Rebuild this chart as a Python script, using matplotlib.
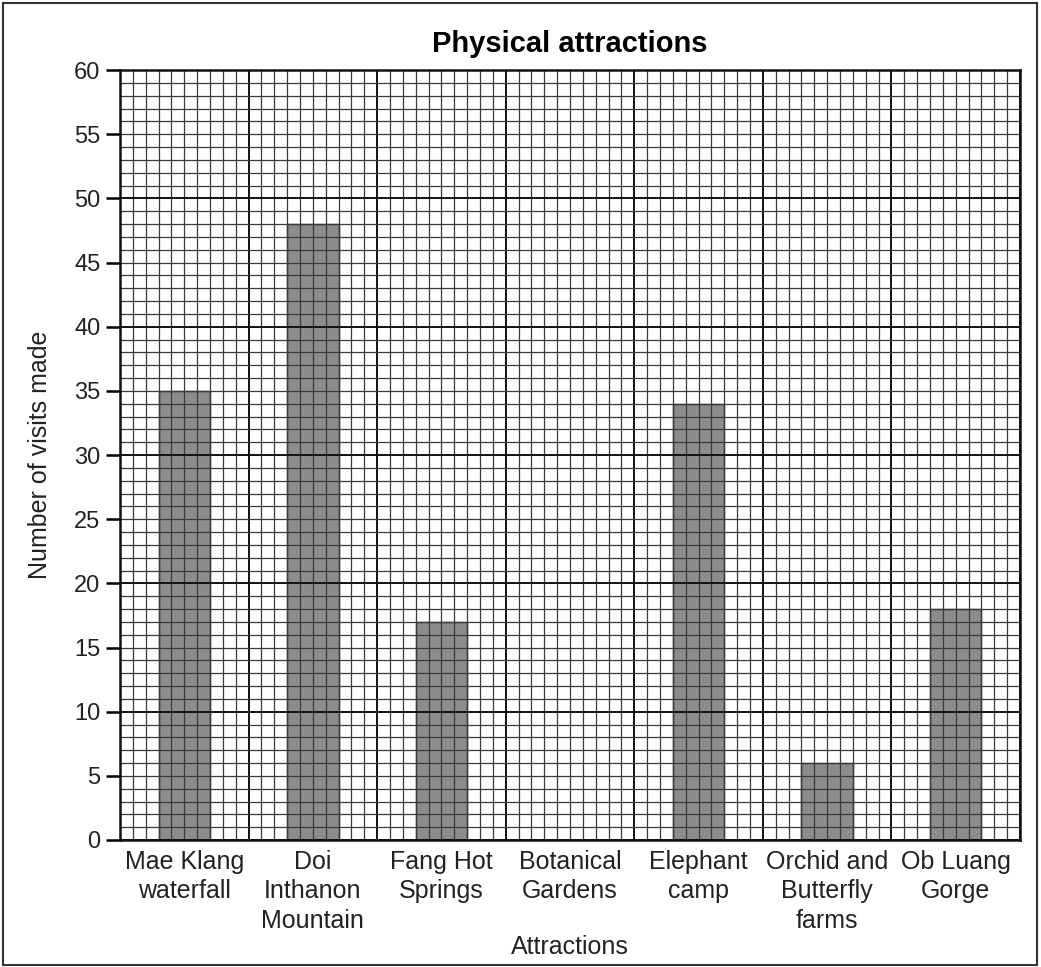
import numpy as np
import matplotlib
matplotlib.use("Agg")
import matplotlib.pyplot as plt
from matplotlib.patches import Rectangle

plt.rcParams['font.family'] = ['Liberation Sans', 'DejaVu Sans']

# -------------------------------------------------
# data
# -------------------------------------------------
attractions = [
    "Mae Klang\nwaterfall",
    "Doi\nInthanon\nMountain",
    "Fang Hot\nSprings",
    "Botanical\nGardens",
    "Elephant\ncamp",
    "Orchid and\nButterfly\nfarms",
    "Ob Luang\nGorge",
]
visits = [35, 48, 17, 0, 34, 6, 18]

y_max = 60
y_ticks = np.arange(0, 61, 5)

# -------------------------------------------------
# figure
# -------------------------------------------------
fig = plt.figure(figsize=(10.41, 9.67), dpi=100)
ax = fig.add_axes([120 / 1041, 1 - 840 / 967, 900 / 1041, 770 / 967])

x = np.arange(len(attractions))
ax.bar(x, visits, width=0.4, color="#8c8c8c", edgecolor="#222222",
       linewidth=1.0, zorder=1)

ax.set_xlim(-0.5, len(attractions) - 0.5)
ax.set_ylim(0, y_max)

# graph paper grid
xs = np.arange(-0.5, len(attractions) - 0.5 + 1e-9, 0.1)
for i, xv in enumerate(xs):
    major = (i % 10 == 0)
    ax.axvline(xv, color="#111111" if major else "#3a3a3a",
               lw=1.4 if major else 0.9, zorder=2)
for yv in range(0, y_max + 1):
    major = (yv % 10 == 0)
    ax.axhline(yv, color="#111111" if major else "#3a3a3a",
               lw=1.4 if major else 0.9, zorder=2)

ax.set_yticks(y_ticks)
ax.set_xticks(x)
ax.set_xticklabels(attractions, fontsize=18, color="#222222",
                   linespacing=1.3)
ax.tick_params(axis="x", length=0, pad=7)
ax.tick_params(axis="y", length=10, width=1.8, labelsize=17, pad=4,
               labelcolor="#222222")

for s in ax.spines.values():
    s.set_linewidth(1.8)
    s.set_color("#111111")
    s.set_zorder(3)

ax.set_title("Physical attractions", fontsize=21, fontweight="bold", pad=13)
ax.set_ylabel("Number of visits made", fontsize=18, labelpad=16,
              color="#222222")
ax.set_xlabel("Attractions", fontsize=18, labelpad=1, color="#222222")

# figure border
fig.patches.append(Rectangle((3 / 1041, 2 / 967), 1034 / 1041, 962 / 967,
                             transform=fig.transFigure, fill=False,
                             edgecolor="#333333", lw=1.5))

fig.savefig("out.png", dpi=100)
